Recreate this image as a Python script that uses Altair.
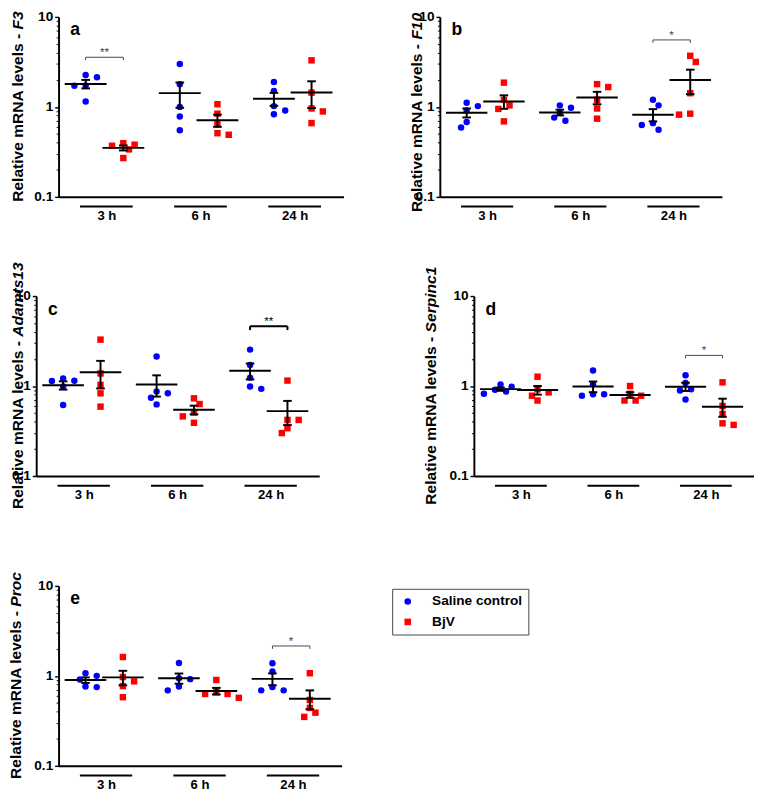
import math
import altair as alt
import pandas as pd

# ---------------- data ----------------
TIMES = ["3 h", "6 h", "24 h"]
GROUPS = ["Saline control", "BjV"]
COLORS = ["#0000ff", "#ff0000"]
SHAPES = ["circle", "square"]
GENES = ["F3", "F10", "Adamts13", "Serpinc1", "Proc"]
LETTERS = ["a", "b", "c", "d", "e"]
TITLE_PREFIX = "Relative mRNA levels -"

# per gene: one list of 5 animals for each time point (3 h, 6 h, 24 h)
F3_SALINE = [[1.72, 2.26, 2.14, 1.15, 1.73], [2.99, 1.79, 1.00, 0.78, 0.55], [1.89, 1.50, 1.02, 0.91, 0.83]]
F3_BJV = [[0.38, 0.37, 0.395, 0.337, 0.27], [1.07, 0.84, 0.64, 0.49, 0.51], [3.29, 1.44, 0.96, 0.89, 0.66]]
F10_SALINE = [[1.02, 0.91, 1.11, 0.59, 0.68], [1.04, 0.98, 0.86, 0.76, 0.70], [1.20, 1.04, 0.66, 0.556, 0.63]]
F10_BJV = [[1.86, 1.04, 1.20, 0.95, 0.69], [1.66, 1.79, 1.20, 0.96, 0.74], [3.70, 3.16, 1.42, 0.82, 0.84]]
ADAMTS13_SALINE = [[1.21, 1.14, 1.145, 0.99, 0.615], [2.13, 0.87, 0.83, 0.74, 0.625], [2.54, 1.71, 1.24, 0.93, 0.99]]
ADAMTS13_BJV = [[3.28, 1.38, 1.03, 0.83, 0.59], [0.73, 0.63, 0.51, 0.46, 0.39], [1.15, 0.42, 0.42, 0.34, 0.30]]
SERPINC1_SALINE = [[1.04, 0.91, 0.82, 0.87, 0.98], [1.49, 0.81, 0.78, 0.81, 1.05], [1.32, 1.08, 0.92, 0.89, 0.71]]
SERPINC1_BJV = [[1.27, 0.85, 0.78, 0.69, 0.92], [1.00, 0.78, 0.82, 0.69, 0.69], [1.10, 0.60, 0.49, 0.385, 0.37]]
PROC_SALINE = [[0.91, 1.07, 1.00, 0.75, 0.76], [1.39, 0.94, 0.92, 0.76, 0.69], [1.38, 1.12, 0.75, 0.69, 0.69]]
PROC_BJV = [[1.62, 0.97, 0.87, 0.77, 0.58], [0.90, 0.63, 0.57, 0.63, 0.66], [1.07, 0.54, 0.44, 0.39, 0.35]]

SALINE = [F3_SALINE, F10_SALINE, ADAMTS13_SALINE, SERPINC1_SALINE, PROC_SALINE]
BJV = [F3_BJV, F10_BJV, ADAMTS13_BJV, SERPINC1_BJV, PROC_BJV]

# significance brackets: time index, bracket level, label
SIG_TIME = [0, 2, 2, 2, 2]
SIG_Y = [3.56, 5.55, 4.62, 2.19, 2.15]
SIG_TEXT = ["**", "*", "**", "*", "*"]

Y_MAJOR = [0.1, 1, 10]
Y_MINOR = [m * 10.0 ** e for e in (-1, 0) for m in range(2, 10)]

# ---------------- layout / style ----------------
XDOM = [-0.72, 6.85]
H = 185
PANEL_W = [293, 290, 291, 288, 291]
SHIFT = [0, 0, -23, 0, 0]          # horizontal nudge of a panel inside its cell (px)
TITLE_DX = [-42, -23.5, -19, -44, -44]
TITLE_DY = [0, 6, 0, 0, 0]
BRACKET_BOLD = [False, False, True, False, False]
FONT = "Liberation Sans"
TITLE_SIZE = 16
GAP = 4.5

ARIAL_BOLD = {' ': 278, '-': 333, 'A': 722, 'F': 611, 'N': 722, 'P': 667,
              'R': 722, 'S': 667, 'a': 556, 'c': 556, 'd': 611, 'e': 556, 'i': 278,
              'l': 278, 'm': 889, 'n': 611, 'o': 611, 'p': 611, 'r': 389, 's': 556,
              't': 333, 'v': 556}


def text_w(s, size):
    return sum(ARIAL_BOLD.get(c, 556) for c in s) * size / 1000.0


def swarm(vals, xpx, ypx, step=0.15, diam=7.4):
    """Column-scatter placement: spread points sideways only where they overlap."""
    order = sorted(range(len(vals)), key=lambda i: -vals[i])
    placed = []
    offs = [0.0] * len(vals)
    for i in order:
        yp = math.log10(vals[i]) * ypx
        left = sum(1 for o, _ in placed if o < -1e-9)
        right = sum(1 for o, _ in placed if o > 1e-9)
        cands = [0]
        for k in range(1, 6):
            cands += [k, -k] if right <= left else [-k, k]
        xo = 0.0
        for k in cands:
            xo = k * step
            if all(math.hypot((xo - o) * xpx, yp - yy) >= diam for o, yy in placed):
                break
        placed.append((xo, yp))
        offs[i] = xo
    return offs


def label_expr():
    parts = []
    for t in range(len(TIMES) - 1):
        parts.append(f"datum.value < {2.5 * t + 1.8} ? '{TIMES[t]}' : ")
    return "".join(parts) + f"'{TIMES[-1]}'"


def panel(k, legend=None):
    w = PANEL_W[k]
    sh = SHIFT[k]
    xpx = w / (XDOM[1] - XDOM[0])
    ypx = H / 2.0
    rows = []
    for gi, (grp, series) in enumerate(zip(GROUPS, [SALINE[k], BJV[k]])):
        for t, vals in enumerate(series):
            centre = 2.5 * t + gi
            offs = swarm(vals, xpx, ypx)
            for v, xo in zip(vals, offs):
                rows.append({"time": TIMES[t], "grp": grp, "value": v,
                             "pos": centre, "jx": centre + xo})
    df = pd.DataFrame(rows)

    xs = alt.Scale(domain=XDOM, nice=False, zero=False, range=[sh, w + sh])
    ys = alt.Scale(type="log", domain=[0.1, 10], nice=False)

    x_axis = alt.Axis(values=[2.5 * t + 0.55 for t in range(3)], labelExpr=label_expr(),
                      title=None, ticks=False, grid=False, domainColor="black", domainWidth=2,
                      labelFont=FONT, labelFontSize=13.5, labelFontWeight="bold",
                      labelColor="black", labelPadding=12, labelFlush=False)
    y_major = alt.Axis(values=Y_MAJOR, format="~g", orient="left", title=None, grid=False,
                       labelFont=FONT, labelFontSize=14, labelFontWeight="bold",
                       labelColor="black", labelPadding=2, tickSize=4, tickWidth=1.5,
                       tickColor="black", domainColor="black", domainWidth=2, offset=-sh)
    y_minor = alt.Axis(values=Y_MINOR, orient="left", title=None, grid=False, labels=False,
                       tickSize=2.5, tickWidth=1, tickColor="black", domain=False, offset=-sh)

    def X(field):
        return alt.X(field, scale=xs, axis=x_axis)

    base = alt.Chart(df)
    pts = base.mark_point(filled=True, size=44, opacity=1).encode(
        x=X("jx:Q"),
        y=alt.Y("value:Q", scale=ys, axis=y_major),
        color=alt.Color("grp:N", scale=alt.Scale(domain=GROUPS, range=COLORS), legend=legend),
        shape=alt.Shape("grp:N", scale=alt.Scale(domain=GROUPS, range=SHAPES), legend=legend),
    )
    stats = base.transform_aggregate(m="mean(value)", se="stderr(value)", groupby=["pos"])
    mean_line = stats.transform_calculate(
        x1="datum.pos - 0.556", x2="datum.pos + 0.556"
    ).mark_rule(color="black", strokeWidth=2).encode(
        x=X("x1:Q"), x2="x2:Q",
        y=alt.Y("m:Q", scale=ys, axis=y_minor),
    )
    err = stats.transform_calculate(
        lo="datum.m - datum.se", hi="datum.m + datum.se"
    ).mark_rule(color="black", strokeWidth=2).encode(
        x=X("pos:Q"),
        y=alt.Y("lo:Q", scale=ys, axis=None), y2="hi:Q",
    )
    caps = stats.transform_calculate(
        lo="datum.m - datum.se", hi="datum.m + datum.se"
    ).transform_fold(["lo", "hi"], as_=["end", "v"]).transform_calculate(
        x1="datum.pos - 0.115", x2="datum.pos + 0.115"
    ).mark_rule(color="black", strokeWidth=2).encode(
        x=X("x1:Q"), x2="x2:Q",
        y=alt.Y("v:Q", scale=ys, axis=None),
    )

    bold = BRACKET_BOLD[k]
    bcol = "black" if bold else "#444444"
    bw = 2 if bold else 1
    bdf = pd.DataFrame({"t": [SIG_TIME[k]], "y": [SIG_Y[k]], "lab": [SIG_TEXT[k]]})
    bbase = alt.Chart(bdf).transform_calculate(
        x1="2.5 * datum.t", x2="2.5 * datum.t + 1", xm="2.5 * datum.t + 0.5"
    )
    hbar = bbase.mark_rule(color=bcol, strokeWidth=bw).encode(
        x=X("x1:Q"), x2="x2:Q",
        y=alt.Y("y:Q", scale=ys, axis=None),
    )
    ends = bbase.transform_fold(["x1", "x2"], as_=["side", "xe"]).mark_rule(
        color=bcol, strokeWidth=bw, y2Offset=4 if bold else 3
    ).encode(
        x=X("xe:Q"),
        y=alt.Y("y:Q", scale=ys, axis=None), y2="y:Q",
    )
    star = bbase.mark_text(font=FONT, fontSize=12, color=bcol, baseline="alphabetic",
                           dy=-1).encode(
        x=X("xm:Q"),
        y=alt.Y("y:Q", scale=ys, axis=None), text="lab:N",
    )

    udf = pd.DataFrame({"t": list(range(len(TIMES)))})
    under = alt.Chart(udf).transform_calculate(
        x1="2.5 * datum.t - 0.15", x2="2.5 * datum.t + 1.25"
    ).mark_rule(color="black", strokeWidth=2).encode(
        x=X("x1:Q"), x2="x2:Q", y=alt.value(H + 10),
    )

    gene = GENES[k]
    w1 = text_w(TITLE_PREFIX, TITLE_SIZE)
    w2 = text_w(gene, TITLE_SIZE) + GAP
    junction = H / 2 + (w1 + w2) / 2 - w1 + TITLE_DY[k]
    t1 = alt.Chart(pd.DataFrame({"s": [TITLE_PREFIX]})).mark_text(
        angle=270, align="right", baseline="middle", font=FONT, fontSize=TITLE_SIZE,
        fontWeight="bold", color="black"
    ).encode(x=alt.value(TITLE_DX[k] + sh), y=alt.value(junction), text="s:N")
    t2 = alt.Chart(pd.DataFrame({"s": [gene]})).mark_text(
        angle=270, align="left", baseline="middle", font=FONT, fontSize=TITLE_SIZE,
        fontWeight="bold", fontStyle="italic", color="black", dx=GAP
    ).encode(x=alt.value(TITLE_DX[k] + sh), y=alt.value(junction), text="s:N")

    letter = alt.Chart(pd.DataFrame({"s": [LETTERS[k]]})).mark_text(
        align="left", baseline="alphabetic", font=FONT, fontSize=18, fontWeight="bold",
        color="black"
    ).encode(x=alt.value(12 + sh), y=alt.value(19), text="s:N")

    return alt.layer(pts, mean_line, err, caps, hbar, ends, star, under, t1, t2, letter).resolve_axis(
        y="independent"
    ).properties(width=w + sh, height=H)


legend_e = alt.Legend(orient="none", legendX=343, legendY=3, title=None,
                      labelFont=FONT, labelFontSize=14, labelFontWeight="bold",
                      labelColor="black", symbolSize=46, symbolStrokeWidth=0,
                      strokeColor="#444444", fillColor="white", padding=6,
                      rowPadding=7, labelOffset=18, symbolOffset=3)

row1 = alt.hconcat(panel(0), panel(1), spacing=67)
row2 = alt.hconcat(panel(2), panel(3), spacing=83)
top = alt.concat(row1, row2, columns=1, spacing=41).resolve_scale(
    color="independent", shape="independent")
chart = alt.concat(top, panel(4, legend_e), columns=1, spacing=63).resolve_scale(
    color="independent", shape="independent"
).configure_view(stroke=None).properties(
    padding={"left": 0, "top": -9, "right": 0, "bottom": 0})

chart.save("out.html", embed_options={"renderer": "svg", "actions": False})
